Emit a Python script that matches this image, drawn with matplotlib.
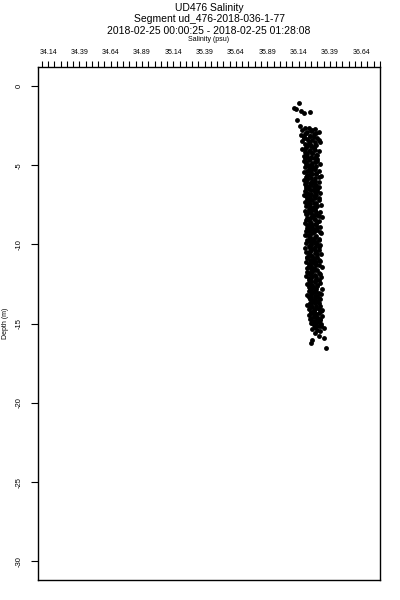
import matplotlib
matplotlib.use("Agg")
import matplotlib.pyplot as plt
from matplotlib.ticker import MultipleLocator, FixedLocator, FormatStrFormatter

plt.rcParams["font.family"] = ["Liberation Sans", "DejaVu Sans"]
plt.rcParams["axes.unicode_minus"] = False

# ---- data (salinity in psu, depth in m) ----
depth_top = [-1.10, -1.45, -1.40, -1.55, -1.70, -1.65, -2.15, -2.55]
sal_top = [36.14, 36.12, 36.10, 36.16, 36.18, 36.23, 36.13, 36.15]

depth = [
    -2.62, -2.68, -2.71, -2.77, -2.84, -2.90, -2.95, -3.02, -3.08, -3.15,
    -3.22, -3.27, -3.33, -3.40, -3.46, -3.52, -3.59, -3.65, -3.72, -3.80,
    -3.86, -3.91, -3.98, -4.05, -4.11, -4.18, -4.24, -4.31, -4.37, -4.44,
    -4.50, -4.56, -4.63, -4.69, -4.76, -4.82, -4.89, -4.95, -5.02, -5.08,
    -5.14, -5.21, -5.27, -5.34, -5.40, -5.47, -5.53, -5.60, -5.66, -5.73,
    -5.79, -5.86, -5.92, -5.99, -6.05, -6.12, -6.18, -6.25, -6.31, -6.38,
    -6.44, -6.51, -6.57, -6.64, -6.70, -6.77, -6.83, -6.90, -6.96, -7.03,
    -7.09, -7.16, -7.22, -7.29, -7.35, -7.42, -7.48, -7.55, -7.61, -7.68,
    -7.74, -7.81, -7.87, -7.94, -8.00, -8.07, -8.13, -8.20, -8.26, -8.33,
    -8.39, -8.46, -8.52, -8.59, -8.65, -8.72, -8.78, -8.85, -8.91, -8.98,
    -9.04, -9.11, -9.17, -9.24, -9.30, -9.37, -9.43, -9.50, -9.56, -9.63,
    -9.69, -9.76, -9.82, -9.89, -9.95, -10.02, -10.08, -10.15, -10.21, -10.28,
    -10.34, -10.41, -10.47, -10.54, -10.60, -10.67, -10.73, -10.80, -10.86, -10.93,
    -10.99, -11.06, -11.12, -11.19, -11.25, -11.32, -11.38, -11.45, -11.51, -11.58,
    -11.64, -11.71, -11.77, -11.84, -11.90, -11.97, -12.03, -12.10, -12.16, -12.23,
    -12.29, -12.36, -12.42, -12.49, -12.55, -12.62, -12.68, -12.75, -12.81, -12.88,
    -12.94, -13.01, -13.07, -13.14, -13.20, -13.27, -13.33, -13.40, -13.46, -13.53,
    -13.59, -13.66, -13.72, -13.79, -13.85, -13.92, -13.98, -14.05, -14.11, -14.18,
    -14.24, -14.31, -14.37, -14.44, -14.50, -14.57, -14.63, -14.70, -14.76, -14.83,
    -14.89, -14.96, -15.02, -15.09, -15.15, -15.22, -15.28, -15.35, -15.41, -15.48,
]
salinity = [
    36.22, 36.19, 36.27, 36.17, 36.24, 36.30, 36.20, 36.26, 36.16, 36.23,
    36.18, 36.29, 36.21, 36.25, 36.17, 36.31, 36.22, 36.19, 36.27, 36.24,
    36.20, 36.26, 36.17, 36.23, 36.30, 36.19, 36.25, 36.21, 36.28, 36.18,
    36.24, 36.19, 36.29, 36.22, 36.18, 36.27, 36.31, 36.20, 36.25, 36.22,
    36.19, 36.26, 36.22, 36.30, 36.18, 36.24, 36.28, 36.21, 36.32, 36.20,
    36.27, 36.21, 36.18, 36.25, 36.30, 36.23, 36.19, 36.28, 36.22, 36.26,
    36.20, 36.29, 36.24, 36.19, 36.27, 36.31, 36.22, 36.18, 36.26, 36.23,
    36.30, 36.21, 36.25, 36.19, 36.28, 36.23, 36.32, 36.20, 36.26, 36.24,
    36.22, 36.27, 36.19, 36.31, 36.24, 36.20, 36.29, 36.25, 36.33, 36.21,
    36.26, 36.20, 36.30, 36.23, 36.19, 36.28, 36.22, 36.25, 36.31, 36.21,
    36.24, 36.29, 36.20, 36.26, 36.32, 36.22, 36.19, 36.27, 36.23, 36.30,
    36.21, 36.25, 36.28, 36.20, 36.24, 36.31, 36.22, 36.27, 36.19, 36.26,
    36.30, 36.23, 36.20, 36.27, 36.32, 36.22, 36.25, 36.29, 36.21, 36.26,
    36.23, 36.31, 36.20, 36.26, 36.22, 36.28, 36.24, 36.33, 36.21, 36.27,
    36.25, 36.21, 36.30, 36.23, 36.27, 36.20, 36.32, 36.24, 36.28, 36.22,
    36.27, 36.23, 36.31, 36.21, 36.25, 36.29, 36.22, 36.26, 36.33, 36.24,
    36.22, 36.28, 36.25, 36.32, 36.21, 36.27, 36.24, 36.30, 36.23, 36.26,
    36.29, 36.23, 36.27, 36.21, 36.31, 36.25, 36.28, 36.22, 36.33, 36.26,
    36.24, 36.30, 36.27, 36.22, 36.33, 36.26, 36.29, 36.23, 36.31, 36.25,
    36.28, 36.24, 36.32, 36.26, 36.30, 36.27, 36.34, 36.25, 36.29, 36.31,
]
depth_b = [
    -2.80, -2.88, -2.97, -3.05, -3.13, -3.22, -3.30, -3.38, -3.47, -3.55,
    -3.63, -3.72, -3.80, -3.88, -3.97, -4.05, -4.13, -4.22, -4.30, -4.38,
    -4.47, -4.55, -4.63, -4.72, -4.80, -4.88, -4.97, -5.05, -5.13, -5.22,
    -5.30, -5.38, -5.47, -5.55, -5.63, -5.72, -5.80, -5.88, -5.97, -6.05,
    -6.13, -6.22, -6.30, -6.38, -6.47, -6.55, -6.63, -6.72, -6.80, -6.88,
    -6.97, -7.05, -7.13, -7.22, -7.30, -7.38, -7.47, -7.55, -7.63, -7.72,
    -7.80, -7.88, -7.97, -8.05, -8.13, -8.22, -8.30, -8.38, -8.47, -8.55,
    -8.63, -8.72, -8.80, -8.88, -8.97, -9.05, -9.13, -9.22, -9.30, -9.38,
    -9.47, -9.55, -9.63, -9.72, -9.80, -9.88, -9.97, -10.05, -10.13, -10.22,
    -10.30, -10.38, -10.47, -10.55, -10.63, -10.72, -10.80, -10.88, -10.97, -11.05,
    -11.13, -11.22, -11.30, -11.38, -11.47, -11.55, -11.63, -11.72, -11.80, -11.88,
    -11.97, -12.05, -12.13, -12.22, -12.30, -12.38, -12.47, -12.55, -12.63, -12.72,
    -12.80, -12.88, -12.97, -13.05, -13.13, -13.22, -13.30, -13.38, -13.47, -13.55,
    -13.63, -13.72, -13.80, -13.88, -13.97, -14.05, -14.13, -14.22, -14.30, -14.38,
    -14.47, -14.55, -14.63, -14.72, -14.80, -14.88, -14.97, -15.05, -15.13, -15.22,
]
salinity_b = [
    36.25, 36.21, 36.28, 36.19, 36.23, 36.26, 36.18, 36.30, 36.22, 36.27,
    36.23, 36.28, 36.21, 36.26, 36.19, 36.27, 36.22, 36.25, 36.20, 36.29,
    36.21, 36.26, 36.23, 36.29, 36.20, 36.25, 36.22, 36.28, 36.23, 36.27,
    36.24, 36.21, 36.28, 36.25, 36.22, 36.30, 36.24, 36.21, 36.27, 36.20,
    36.26, 36.24, 36.20, 36.30, 36.22, 36.26, 36.29, 36.21, 36.24, 36.28,
    36.20, 36.27, 36.23, 36.30, 36.22, 36.26, 36.21, 36.29, 36.23, 36.27,
    36.25, 36.22, 36.28, 36.21, 36.26, 36.30, 36.23, 36.27, 36.22, 36.29,
    36.24, 36.27, 36.21, 36.29, 36.23, 36.26, 36.22, 36.31, 36.25, 36.21,
    36.28, 36.23, 36.26, 36.30, 36.22, 36.27, 36.29, 36.24, 36.30, 36.23,
    36.25, 36.28, 36.23, 36.22, 36.29, 36.24, 36.21, 36.27, 36.30, 36.25,
    36.28, 36.23, 36.30, 36.22, 36.26, 36.24, 36.29, 36.25, 36.22, 36.31,
    36.25, 36.28, 36.22, 36.30, 36.24, 36.27, 36.22, 36.29, 36.25, 36.23,
    36.28, 36.23, 36.26, 36.30, 36.24, 36.29, 36.22, 36.27, 36.31, 36.25,
    36.25, 36.30, 36.24, 36.28, 36.23, 36.30, 36.26, 36.32, 36.24, 36.28,
    36.26, 36.29, 36.24, 36.31, 36.27, 36.30, 36.25, 36.28, 36.32, 36.27,
]
depth_bottom = [-15.60, -15.80, -15.90, -16.00, -16.20, -16.50]
sal_bottom = [36.27, 36.30, 36.34, 36.25, 36.24, 36.36]

sal_ticks = [34.14, 34.39, 34.64, 34.89, 35.14, 35.39, 35.64, 35.89, 36.14, 36.39, 36.64]
depth_ticks = [0, -5, -10, -15, -20, -25, -30]

title_lines = [
    "UD476 Salinity",
    "Segment ud_476-2018-036-1-77",
    "2018-02-25 00:00:25 - 2018-02-25 01:28:08",
]

fig = plt.figure(figsize=(4, 6), dpi=100)
ax = fig.add_axes([38 / 400, 1 - 580 / 600, 342 / 400, 513 / 600])

for s, d in [(sal_top, depth_top), (salinity, depth), (salinity_b, depth_b),
             (sal_bottom, depth_bottom)]:
    ax.plot(s, d, "o", color="black", ms=3.5, mew=0)

ax.set_xlim(34.06, 36.79)
ax.set_ylim(-31.17, 1.2)

ax.xaxis.set_ticks_position("top")
ax.xaxis.set_label_position("top")
ax.xaxis.set_major_locator(FixedLocator(sal_ticks))
ax.xaxis.set_major_formatter(FormatStrFormatter("%.2f"))
ax.xaxis.set_minor_locator(MultipleLocator(0.05, offset=0.04))
ax.tick_params(axis="x", which="both", direction="out", length=4, width=0.8,
               labelsize=5, pad=4, colors="black")
ax.set_xlabel("Salinity (psu)", fontsize=5, labelpad=6)

ax.set_yticks(depth_ticks)
ax.tick_params(axis="y", direction="out", length=5, width=0.8, labelsize=5.5, pad=6)
for lab in ax.get_yticklabels():
    lab.set_rotation(90)
    lab.set_va("center")
ax.set_ylabel("Depth (m)", fontsize=5)
ax.yaxis.set_label_coords(-0.085, 0.5)

for sp in ax.spines.values():
    sp.set_linewidth(1.0)

cx = (38 + 380) / 2 / 400
for i, line in enumerate(title_lines):
    fig.text(cx, 1 - (8 + 11.5 * i) / 600, line, ha="center", va="center", fontsize=7.5)

fig.savefig("out.png", dpi=100)
